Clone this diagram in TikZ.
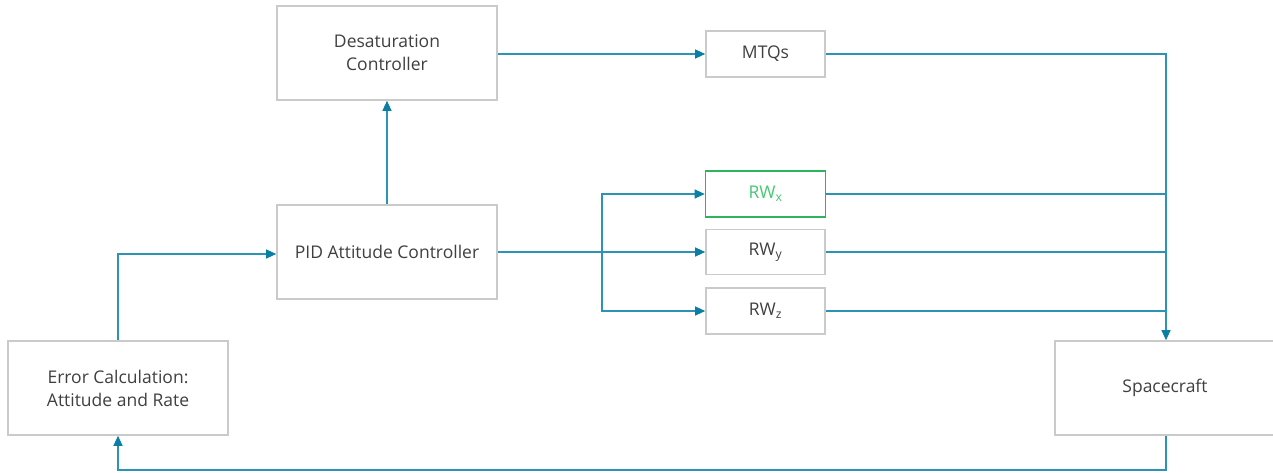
\documentclass[tikz,border=0pt]{standalone}
\usepackage{fontspec}
\setmainfont{Open Sans}
\usetikzlibrary{arrows.meta}
\definecolor{lnc}{HTML}{2C93B5}
\definecolor{arc}{HTML}{0B7FA3}
\definecolor{bxc}{HTML}{CACACA}
\definecolor{txc}{HTML}{404040}
\definecolor{grc}{HTML}{2DB55D}
\definecolor{grt}{HTML}{45C873}
\tikzset{
  blk/.style={draw=bxc, line width=1.6pt, fill=white, text=txc, align=center, font=\fontsize{17.5}{23}\selectfont, inner sep=0pt},
  link/.style={draw=lnc, line width=1.1pt},
  arr/.style={link, -{Triangle[length=10pt,width=9pt,color=arc]}},
}
\begin{document}
\begin{tikzpicture}[x=1pt,y=-1pt]
\useasboundingbox (0,0) rectangle (1273,473);
\node[blk, minimum width=220pt, minimum height=94pt] (des) at (387,53) {Desaturation\\Controller};
\node[blk, minimum width=119pt, minimum height=46pt] (mtq) at (765.5,54) {MTQs};
\node[blk, draw=grc, text=grt, minimum width=120pt, minimum height=46pt] (rwx) at (765.5,194) {RW\textsubscript{x}};
\node[blk, minimum width=119pt, minimum height=45pt] (rwy) at (765.5,252) {RW\textsubscript{y}};
\node[blk, minimum width=119pt, minimum height=46pt] (rwz) at (765.5,311) {RW\textsubscript{z}};
\node[blk, minimum width=220pt, minimum height=94pt] (pid) at (387,252) {PID Attitude Controller};
\node[blk, minimum width=220pt, minimum height=94pt] (err) at (118,388) {Error Calculation:\\Attitude and Rate};
\node[blk, minimum width=220pt, minimum height=94pt] (sc) at (1165,388) {Spacecraft};
\coordinate (split) at (602,252);
\coordinate (bus) at (1166,54);
\coordinate (fb) at (1166,470);
\draw[arr] (des.east |- mtq) -- (mtq.west);
\draw[arr] (pid.north) -- (des.south);
\draw[arr] (err.north) |- (pid.west |- 0,254);
\draw[arr] (pid.east) -- (rwy.west);
\draw[arr] (split) |- (rwx.west);
\draw[arr] (split) |- (rwz.west);
\draw[arr] (mtq.east) -| (bus |- sc.north);
\draw[link] (rwx.east) -- (bus |- rwx);
\draw[link] (rwy.east) -- (bus |- rwy);
\draw[link] (rwz.east) -- (bus |- rwz);
\draw[arr] (bus |- sc.south) -- (fb) -| (err.south);
\end{tikzpicture}
\end{document}
